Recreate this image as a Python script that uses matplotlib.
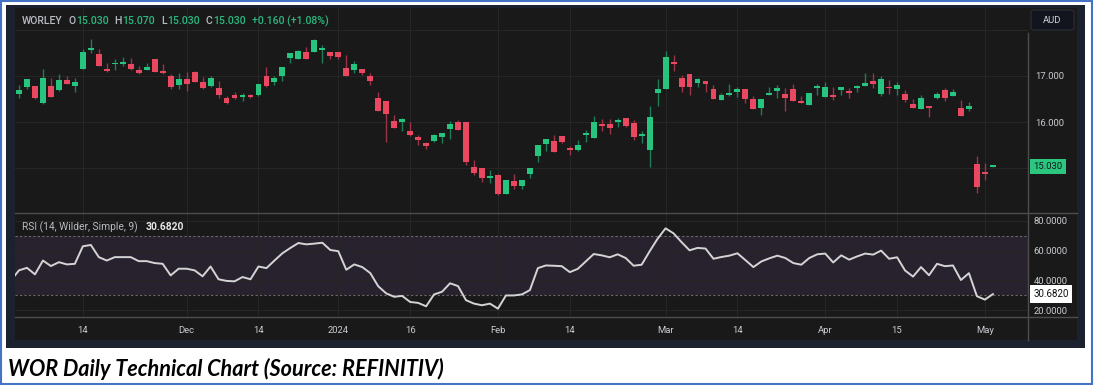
import matplotlib
matplotlib.use("Agg")
import matplotlib.pyplot as plt
import matplotlib.transforms as mtransforms
from matplotlib.patches import Rectangle, FancyBboxPatch
from matplotlib.lines import Line2D
import numpy as np

# ---------------- data ----------------
ticker = "WORLEY"
currency = "AUD"
opens = [16.61, 16.75, 16.79, 16.41, 16.79, 16.70, 16.92, 16.78, 17.15, 17.56,
         17.47, 17.14, 17.25, 17.27, 17.27, 17.14, 17.13, 17.36, 17.09, 16.99,
         16.80, 16.93, 17.09, 16.88, 16.78, 16.74, 16.52, 16.59, 16.54, 16.58,
         16.59, 17.01, 16.87, 17.00, 17.39, 17.38, 17.52, 17.53, 17.56, 17.53,
         17.52, 17.18, 17.13, 17.15, 17.01, 16.52, 16.46, 16.03, 15.99, 15.80,
         15.67, 15.54, 15.59, 15.68, 15.85, 16.00, 16.00, 15.03, 14.99, 14.79,
         14.84, 14.43, 14.72, 14.60, 14.87, 15.26, 15.52, 15.59, 15.70, 15.43,
         15.39, 15.71, 15.65, 15.95, 15.96, 16.00, 16.09, 15.98, 15.70, 15.39,
         16.64, 16.71, 17.30, 16.95, 17.05, 16.84, 16.89, 16.72, 16.48, 16.58,
         16.65, 16.71, 16.49, 16.30, 16.58, 16.67, 16.61, 16.72, 16.45, 16.37,
         16.73, 16.55, 16.59, 16.70, 16.67, 16.74, 16.78, 16.89, 16.60, 16.77,
         16.72, 16.60, 16.39, 16.28, 16.35, 16.53, 16.69, 16.57, 16.31, 16.29,
         15.08, 14.89, 15.03]
highs = [16.80, 16.94, 16.79, 17.15, 16.95, 17.04, 16.99, 16.95, 17.59, 17.80,
         17.58, 17.29, 17.38, 17.41, 17.39, 17.22, 17.28, 17.36, 17.25, 17.04,
         17.06, 17.08, 17.11, 16.98, 17.00, 16.89, 16.57, 16.65, 16.62, 16.60,
         16.83, 17.19, 17.00, 17.20, 17.49, 17.56, 17.64, 17.80, 17.67, 17.53,
         17.52, 17.46, 17.33, 17.15, 17.07, 16.66, 16.46, 16.15, 16.09, 15.99,
         15.72, 15.56, 15.75, 15.77, 16.03, 16.05, 16.00, 15.17, 14.99, 14.95,
         14.88, 14.75, 14.86, 14.75, 15.00, 15.49, 15.62, 15.72, 15.70, 15.48,
         15.61, 15.83, 16.12, 16.06, 16.06, 16.09, 16.09, 16.04, 15.80, 16.35,
         16.93, 17.54, 17.45, 17.02, 17.05, 16.96, 16.89, 16.80, 16.62, 16.83,
         16.77, 16.71, 16.57, 16.49, 16.75, 16.80, 16.73, 16.83, 16.57, 16.64,
         16.82, 16.86, 16.77, 16.77, 16.73, 16.80, 17.07, 17.06, 16.99, 16.91,
         16.88, 16.70, 16.49, 16.59, 16.35, 16.65, 16.73, 16.72, 16.48, 16.43,
         15.27, 15.10, 15.07]
lows = [16.52, 16.72, 16.50, 16.40, 16.54, 16.67, 16.82, 16.66, 17.15, 17.49,
        17.22, 17.09, 17.13, 17.22, 17.13, 17.05, 17.12, 17.08, 17.05, 16.72,
        16.71, 16.67, 16.87, 16.72, 16.77, 16.53, 16.39, 16.50, 16.46, 16.53,
        16.56, 16.77, 16.80, 16.89, 17.29, 17.37, 17.38, 17.53, 17.29, 17.38,
        17.38, 17.01, 17.07, 17.03, 16.80, 16.23, 15.57, 15.86, 15.81, 15.69,
        15.50, 15.41, 15.57, 15.55, 15.62, 15.83, 15.07, 14.85, 14.70, 14.67,
        14.42, 14.43, 14.55, 14.55, 14.79, 15.12, 15.38, 15.34, 15.55, 15.28,
        15.38, 15.57, 15.65, 15.81, 15.74, 15.90, 15.90, 15.61, 15.55, 15.03,
        16.35, 16.71, 17.11, 16.66, 16.59, 16.75, 16.65, 16.49, 16.48, 16.57,
        16.54, 16.42, 16.28, 16.15, 16.58, 16.53, 16.25, 16.46, 16.41, 16.37,
        16.59, 16.55, 16.48, 16.59, 16.53, 16.65, 16.78, 16.73, 16.57, 16.61,
        16.59, 16.44, 16.30, 16.28, 16.10, 16.49, 16.46, 16.57, 16.12, 16.25,
        14.45, 14.74, 15.03]
closes = [16.70, 16.94, 16.53, 16.96, 16.54, 16.92, 16.82, 16.88, 17.52, 17.58,
          17.22, 17.11, 17.27, 17.30, 17.15, 17.07, 17.19, 17.08, 17.06, 16.75,
          16.94, 16.83, 16.88, 16.73, 16.96, 16.58, 16.41, 16.52, 16.58, 16.54,
          16.83, 16.78, 16.96, 17.20, 17.49, 17.54, 17.38, 17.79, 17.58, 17.44,
          17.41, 17.01, 17.25, 17.06, 16.90, 16.23, 16.18, 15.88, 16.06, 15.71,
          15.61, 15.47, 15.71, 15.77, 15.96, 15.83, 15.12, 14.90, 14.78, 14.83,
          14.43, 14.75, 14.60, 14.75, 15.00, 15.49, 15.62, 15.34, 15.57, 15.40,
          15.50, 15.77, 15.99, 15.91, 15.88, 16.03, 15.91, 15.67, 15.72, 16.10,
          16.72, 17.42, 17.25, 16.75, 16.75, 16.93, 16.82, 16.49, 16.58, 16.62,
          16.72, 16.49, 16.28, 16.49, 16.62, 16.73, 16.52, 16.46, 16.42, 16.64,
          16.78, 16.77, 16.55, 16.77, 16.62, 16.77, 16.85, 16.82, 16.93, 16.73,
          16.80, 16.48, 16.31, 16.53, 16.30, 16.61, 16.53, 16.65, 16.12, 16.34,
          14.59, 14.87, 15.03]
# RSI values; the first one belongs to the session just before the visible window
rsi = [40.0,
       46.7, 48.4, 44.0, 53.3, 49.6, 52.2, 50.7, 51.1, 62.9, 63.8,
       55.6, 53.3, 55.6, 55.6, 55.6, 52.9, 52.9, 51.6, 51.1, 43.3,
       47.8, 47.8, 46.7, 42.7, 49.3, 40.7, 39.6, 39.3, 42.2, 40.7,
       49.3, 48.2, 53.3, 58.2, 61.8, 65.1, 64.2, 64.7, 65.3, 60.4,
       59.6, 47.1, 50.7, 48.9, 44.9, 36.0, 31.2, 28.9, 29.5, 25.4,
       24.8, 22.5, 30.5, 32.3, 38.0, 36.1, 26.6, 24.3, 23.2, 24.3,
       20.9, 29.8, 29.8, 30.5, 33.4, 48.2, 50.0, 49.8, 49.5, 45.5,
       47.7, 52.7, 57.7, 56.8, 55.5, 57.5, 55.0, 49.8, 50.5, 59.5,
       68.0, 75.0, 71.6, 65.7, 60.2, 61.8, 61.4, 54.5, 55.7, 56.6,
       58.2, 53.6, 48.9, 52.7, 54.8, 56.6, 55.0, 51.6, 50.5, 55.0,
       57.5, 58.0, 52.0, 56.8, 53.9, 56.1, 58.0, 57.3, 60.0, 54.5,
       55.5, 46.6, 42.5, 48.9, 43.4, 51.1, 49.5, 50.0, 40.2, 44.8,
       29.3, 27.0, 30.682]
rsi_upper, rsi_lower = 70, 30
price_ticks = [15, 16, 17, 18]
price_tick_labels = ["", "16.000", "17.000", ""]
rsi_ticks = [20, 40, 60, 80]
tick_idx = [8, 21, 30, 40, 49, 60, 69, 81, 90, 101, 110, 121]
tick_labels = ["14", "Dec", "14", "2024", "16", "Feb", "14", "Mar", "14", "Apr", "15", "May"]
rsi_title = "RSI (14, Wilder, Simple, 9)"
caption = "WOR Daily Technical Chart (Source: REFINITIV)"

# ---------------- style ----------------
W, H = 1094, 385
BG = "#191919"
FRAME = "#1c2130"
GRID = "#262626"
TXT = "#c9cbd1"
UP = "#27c47f"
DOWN = "#ea4760"
UP_W = "#1f7d55"
DOWN_W = "#9c3347"
FONT = "Roboto"

fig = plt.figure(figsize=(W / 100, H / 100), dpi=100, facecolor="white")


def fx(px):
    return px / W


def fy(py):
    return 1 - py / H


def frect(x0, y0, x1, y1, **kw):
    r = Rectangle((fx(x0), fy(y1)), (x1 - x0) / W, (y1 - y0) / H,
                  transform=fig.transFigure, **kw)
    fig.patches.append(r)
    return r


def fline(x0, y0, x1, y1, **kw):
    fig.lines.append(Line2D([fx(x0), fx(x1)], [fy(y0), fy(y1)],
                            transform=fig.transFigure, zorder=5, **kw))


frect(1, 1, 1092, 384, facecolor="none", edgecolor="#4472c4", lw=1.5, zorder=-10)
frect(6, 5, 1085, 348, facecolor=FRAME, edgecolor="none", zorder=-10)
frect(15, 8, 1077, 340, facecolor=BG, edgecolor="none", zorder=-9)

axp = fig.add_axes([fx(15), fy(213), (1028 - 15) / W, (213 - 8) / H])
axr = fig.add_axes([fx(15), fy(317), (1028 - 15) / W, (317 - 213) / H], sharex=axp)
for ax in (axp, axr):
    ax.set_facecolor("none")
    for s in ax.spines.values():
        s.set_visible(False)

o = np.array(opens); h = np.array(highs); l = np.array(lows); c = np.array(closes)
idx = np.arange(len(o))
up = c >= o
body_col = np.where(up, UP, DOWN)
wick_col = np.where(up, UP_W, DOWN_W)

axp.vlines(idx, l, h, colors=wick_col, lw=1.0, zorder=2)
bottoms = np.minimum(o, c)
heights = np.maximum(np.abs(c - o), 0.04)
axp.bar(idx, heights, bottom=bottoms, width=0.74, color=body_col, lw=0, zorder=3)

axp.set_xlim(-0.5, 126.4)
axp.set_ylim(14.022, 18.478)
axp.set_yticks(price_ticks)
axp.set_yticklabels(price_tick_labels)
axp.yaxis.tick_right()
axp.tick_params(axis="y", length=0, pad=5, labelsize=6.8, labelcolor=TXT)
axp.tick_params(axis="x", length=0, labelbottom=False)
for lab in axp.get_yticklabels():
    lab.set_fontfamily(FONT)
axp.grid(True, color=GRID, lw=0.8)
axp.set_axisbelow(True)
axp.set_xticks(tick_idx)

# RSI pane
axr.axhspan(rsi_lower, rsi_upper, color="#28222f", lw=0, zorder=0)
axr.axhline(rsi_upper, color="#6a6a6a", lw=0.8, ls=(0, (2, 2)), zorder=1)
axr.axhline(rsi_lower, color="#6a6a6a", lw=0.8, ls=(0, (2, 2)), zorder=1)
rsi_x = np.arange(-1, len(rsi) - 1)
axr.plot(rsi_x, rsi, color="#d4d4d4", lw=1.4, zorder=3, solid_joinstyle="round")
axr.set_ylim(15.29, 85.32)
axr.set_yticks(rsi_ticks)
axr.set_yticklabels([f"{v:.4f}" for v in rsi_ticks])
axr.yaxis.tick_right()
axr.tick_params(axis="y", length=0, pad=4, labelsize=6.8, labelcolor=TXT)
axr.set_xticks(tick_idx)
axr.set_xticklabels(tick_labels)
axr.tick_params(axis="x", length=0, pad=6.5, labelsize=6.8, labelcolor=TXT)
for lab in axr.get_yticklabels() + axr.get_xticklabels():
    lab.set_fontfamily(FONT)
axr.grid(True, color=GRID, lw=0.8, zorder=0)
axr.set_axisbelow(True)

# separators
fline(15, 213, 1077, 213, color="#4d4d4d", lw=1.0)
fline(15, 317, 1077, 317, color="#4d4d4d", lw=1.0)
fline(1028, 33, 1028, 340, color="#4d4d4d", lw=1.0)

# last price label
tr = mtransforms.blended_transform_factory(axp.transAxes, axp.transData)
axp.text((1048 - 15) / 1013, closes[-1], f"{closes[-1]:.3f}", transform=tr,
         ha="center", va="center", fontsize=6.8, family=FONT, color="#10141c",
         bbox=dict(boxstyle="square,pad=0.34", fc="#2bc77f", ec="none"),
         clip_on=False, zorder=10)
trr = mtransforms.blended_transform_factory(axr.transAxes, axr.transData)
axr.text((1051 - 15) / 1013, rsi[-1], f"{rsi[-1]:.4f}", transform=trr,
         ha="center", va="center", fontsize=7.0, family=FONT, color="#111111",
         bbox=dict(boxstyle="square,pad=0.38", fc="white", ec="none"),
         clip_on=False, zorder=10)

# AUD box
box = FancyBboxPatch((fx(1031), fy(30)), (1074 - 1031) / W, 20 / H,
                     boxstyle="round,pad=0,rounding_size=0.004",
                     transform=fig.transFigure, fc="#12151e", ec="#2b2f3a", lw=0.8,
                     zorder=5)
fig.patches.append(box)
fig.text(fx(1052.5), fy(20.5), currency, ha="center", va="center",
         fontsize=6.8, family=FONT, color="#d1d4dc", zorder=6)

# header
renderer = fig.canvas.get_renderer()
GRAY = "#b8bbc2"
GREEN = "#2bb880"
chg = closes[-1] - closes[-2]
pct = chg / closes[-2] * 100
pieces = [(ticker, GRAY, 0), ("O", GRAY, 6.0), (f"{opens[-1]:.3f}", GREEN, 0.5),
          ("H", GRAY, 6.0), (f"{highs[-1]:.3f}", GREEN, 0.5),
          ("L", GRAY, 6.0), (f"{lows[-1]:.3f}", GREEN, 0.5),
          ("C", GRAY, 6.0), (f"{closes[-1]:.3f}", GREEN, 0.5),
          (f"{chg:+.3f} ({pct:+.2f}%)", GREEN, 6.0)]
x = 21.7
for s, col, gap in pieces:
    x += gap
    t = fig.text(fx(x), fy(24.5), s, ha="left", va="baseline", fontsize=7.6,
                 family=FONT, color=col, fontweight="medium")
    x += t.get_window_extent(renderer).width

# RSI header
t = fig.text(fx(21.7), fy(230), rsi_title, ha="left", va="baseline",
             fontsize=7.4, family=FONT, color=GRAY)
x = 21.7 + t.get_window_extent(renderer).width + 8
fig.text(fx(x), fy(230), f"{rsi[-1]:.4f}", ha="left", va="baseline",
         fontsize=7.4, family=FONT, color="#e8e8e8", fontweight="bold")

# caption
cap = fig.text(fx(8), fy(376), caption, ha="left", va="baseline", fontsize=14,
               family=["Lato", "DejaVu Sans"], fontweight="bold", fontstyle="italic",
               color="black")
wcap = cap.get_window_extent(renderer).width
cap.set_fontsize(14 * 436 / wcap)

fig.savefig("out.png", dpi=100, facecolor="white")
